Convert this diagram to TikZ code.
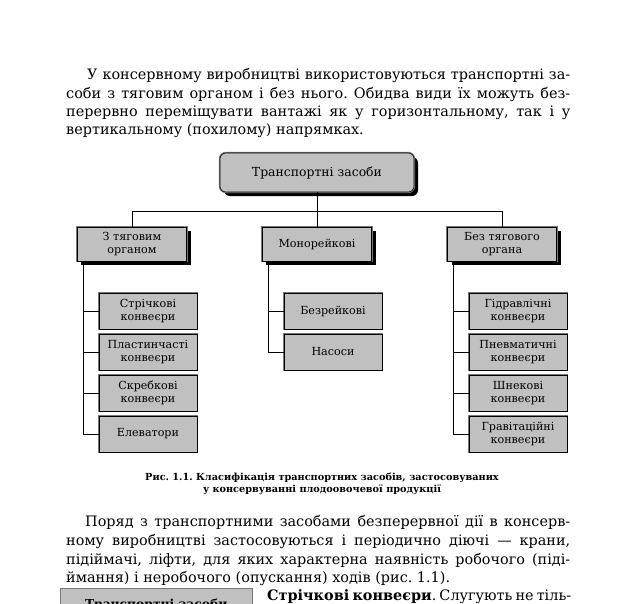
\documentclass[tikz,border=0pt]{standalone}
\usepackage{fontspec}
\setmainfont{DejaVu Serif}
\usetikzlibrary{positioning,shadows}
\definecolor{boxgray}{RGB}{192,192,192}
\definecolor{framegray}{RGB}{120,120,120}
\newcommand{\jline}[2]{\hbox to #1{#2}}
\frenchspacing

\begin{document}
\begin{tikzpicture}[x=0.03cm, y=-0.03cm,
    txt/.style={anchor=base west, inner sep=0pt, font=\fontsize{12.3}{14}\selectfont},
    captxt/.style={anchor=base, inner sep=0pt, font=\fontsize{8.3}{9}\selectfont\bfseries},
    head/.style={draw=black, line width=0.5pt, fill=boxgray, rounded corners=5pt, minimum width=5.82cm, minimum height=1.17cm, font=\fontsize{10.6}{12}\selectfont,
        drop shadow={shadow xshift=0.12cm, shadow yshift=-0.12cm, fill=black, opacity=1}, preaction={draw=framegray, line width=2pt}},
    group/.style={draw=black, line width=0.5pt, fill=boxgray, minimum width=3.27cm, minimum height=1.02cm, align=center, font=\fontsize{9.5}{11}\selectfont,
        drop shadow={shadow xshift=0.12cm, shadow yshift=-0.12cm, fill=black, opacity=1}, preaction={draw=framegray, line width=2pt}},
    item/.style={draw=black, line width=0.5pt, fill=boxgray, minimum width=2.94cm, minimum height=1.08cm, align=center, font=\fontsize{9.5}{11}\selectfont,
        preaction={draw=framegray, line width=2pt}},
    link/.style={draw, line width=0.6pt}
]
\useasboundingbox (0,0) rectangle (634,603);
\fill[white] (0,0) rectangle (634,603);
\clip (0,0) rectangle (634,603);

% text above the figure
\node[txt] (p1a) at (87,79.5) {\jline{14.49cm}{У консервному виробництві використовуються транспортні за-}};
\node[txt] (p1b) at (66,98) {\jline{15.12cm}{соби з тяговим органом і без нього. Обидва види їх можуть без-}};
\node[txt] (p1c) at (66,116) {\jline{15.12cm}{перервно переміщувати вантажі як у горизонтальному, так і у}};
\node[txt] (p1d) at (66,134) {вертикальному (похилому) напрямках.};

% classification scheme
\node[head] (top) at (317,172.5) {Транспортні засоби};

\node[group] (gA) at (132,244) {З тяговим\\органом};
\node[group] (gB) at (317,244) {Монорейкові};
\node[group] (gC) at (502,244) {Без тягового\\органа};

\node[item] (a1) at (148,311) {Стрічкові\\конвеєри};
\node[item] (a2) at (148,352) {Пластинчасті\\конвеєри};
\node[item] (a3) at (148,393) {Скребкові\\конвеєри};
\node[item] (a4) at (148,434) {Елеватори};

\node[item] (b1) at (333,311) {Безрейкові};
\node[item] (b2) at (333,352) {Насоси};

\node[item] (c1) at (518,311) {Гідравлічні\\конвеєри};
\node[item] (c2) at (518,352) {Пневматичні\\конвеєри};
\node[item] (c3) at (518,393) {Шнекові\\конвеєри};
\node[item] (c4) at (518,434) {Гравітаційні\\конвеєри};

\draw[link] (top.south) -- (gB.north);
\draw[link] (gA.north) -- ++(0,-15) -| (gC.north);

\foreach \k in {1,...,4}
  \draw[link] ([xshift=0.18cm]gA.south west) |- (a\k.west);
\foreach \k in {1,2}
  \draw[link] ([xshift=0.18cm]gB.south west) |- (b\k.west);
\foreach \k in {1,...,4}
  \draw[link] ([xshift=0.18cm]gC.south west) |- (c\k.west);

\node[captxt] (cap1) at (322,480) {Рис. 1.1. Класифікація транспортних засобів, застосовуваних};
\node[captxt] (cap2) at (322,492) {у консервуванні плодоовочевої продукції};

% text below the figure
\node[txt] (p2a) at (85,526.5) {\jline{14.55cm}{Поряд з транспортними засобами безперервної дії в консерв-}};
\node[txt] (p2b) at (66,545.5) {\jline{15.12cm}{ному виробництві застосовуються і періодично діючі — крани,}};
\node[txt] (p2c) at (66,564) {\jline{15.12cm}{підіймачі, ліфти, для яких характерна наявність робочого (піді-}};
\node[txt] (p2d) at (66,582.5) {ймання) і неробочого (опускання) ходів (рис. 1.1).};

\node[draw=framegray, fill=boxgray, anchor=north west, minimum width=5.76cm, minimum height=1.02cm, font=\fontsize{10.5}{12}\selectfont\bfseries] (side) at (60,588) {Транспортні засоби};
\node[txt] (p3a) at (267,600) {\jline{9.09cm}{\textbf{Стрічкові конвеєри}. Слугують не тіль-}};
\end{tikzpicture}
\end{document}
